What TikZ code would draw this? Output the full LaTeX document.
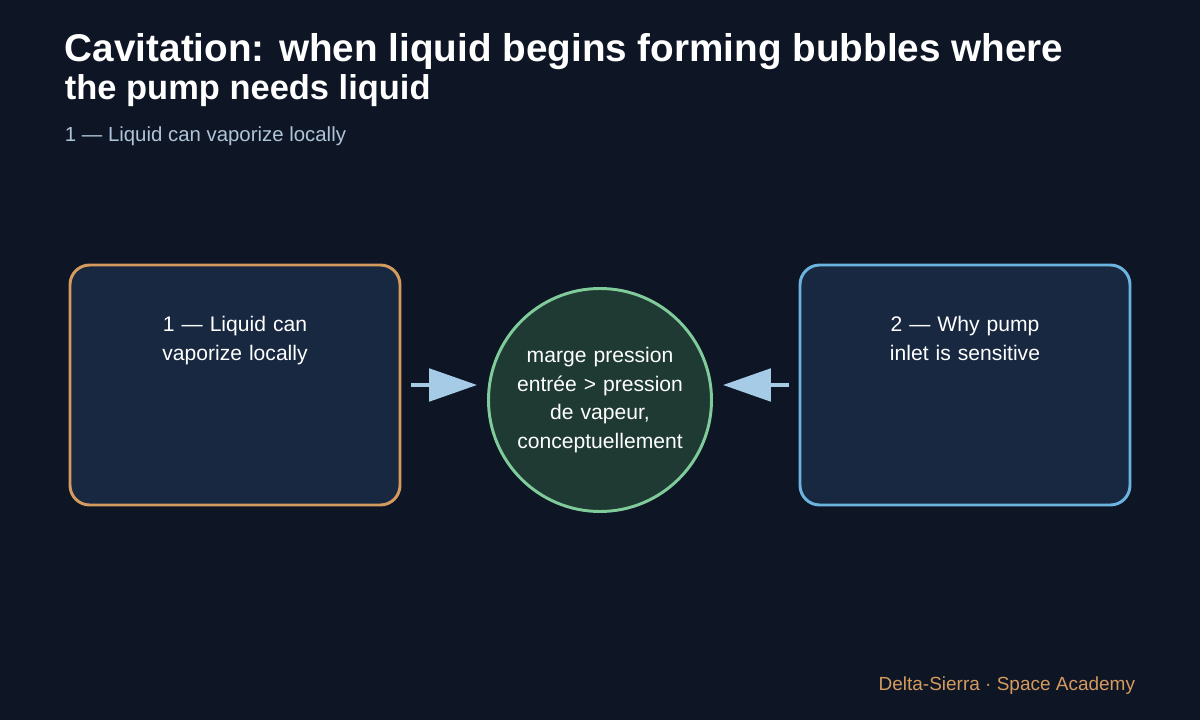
\documentclass[tikz,border=0pt]{standalone}
\usepackage{fontspec}
\setmainfont{Liberation Sans}
\usetikzlibrary{arrows.meta}
\usetikzlibrary{positioning}
\definecolor{bgcol}{HTML}{0E1626}
\definecolor{boxfill}{HTML}{172840}
\definecolor{orangeline}{HTML}{D49A5E}
\definecolor{blueline}{HTML}{6CB4E0}
\definecolor{circfill}{HTML}{1E3A32}
\definecolor{greenline}{HTML}{7FCB9A}
\definecolor{arrowcol}{HTML}{A6CBE6}
\definecolor{subcol}{HTML}{B0C4D8}
\begin{document}
\begin{tikzpicture}[x=0.025cm, y=-0.025cm,
        box_style/.style={draw, line width=2.1pt, fill=boxfill, rounded corners=14pt,
            minimum width=330*0.025cm, minimum height=240*0.025cm},
        box_text/.style={text=white, font=\fontsize{15}{20.5}\selectfont, align=center, text width=190pt},
        circle_style/.style={circle, draw=greenline, fill=circfill, line width=2.1pt,
            minimum size=210*0.025cm, inner sep=0pt, text=white,
            font=\fontsize{15}{20.5}\selectfont, align=center},
        arrow_style/.style={draw=arrowcol, line width=2.8pt,
            -{Triangle[length=34pt, width=23pt]}}]

        \fill[bgcol] (0,0) rectangle (1200,720);
        \useasboundingbox (0,0) rectangle (1200,720);

        \node [anchor=base west, text=white, font=\bfseries\fontsize{27.5}{30}\selectfont] (title1) at (60,62) {Cavitation: when liquid begins forming bubbles where};
        \node [anchor=base west, text=white, font=\bfseries\fontsize{24.5}{28}\selectfont] (title2) at (60,100) {the pump needs liquid};
        \node [anchor=base west, text=subcol, font=\fontsize{14.5}{17}\selectfont] (sub) at (60,142) {1 — Liquid can vaporize locally};

        \node [box_style, draw=orangeline] (left) at (235,385) {};
        \node [box_style, draw=blueline] (right) at (965,385) {};
        \node [box_text, anchor=north] (ltext) at (235,311) {1 — Liquid can vaporize locally};
        \node [box_text, anchor=north] (rtext) at (965,311) {2 — Why pump inlet is sensitive};

        \node [circle_style, text width=140pt] (mid) at (600,400) {marge pression\\entrée > pression\\de vapeur,\\conceptuellement};
        \coordinate (mc) at (600,385);

        \draw [arrow_style] ([xshift=10*0.025cm]left.east) -- ([xshift=-10*0.025cm]mc -| mid.west);
        \draw [arrow_style] ([xshift=-10*0.025cm]right.west) -- ([xshift=10*0.025cm]mc -| mid.east);

        \node [anchor=base east, text=orangeline, font=\fontsize{13.5}{16}\selectfont] (footer) at (1140,690) {Delta-Sierra · Space Academy};

\end{tikzpicture}
\end{document}
